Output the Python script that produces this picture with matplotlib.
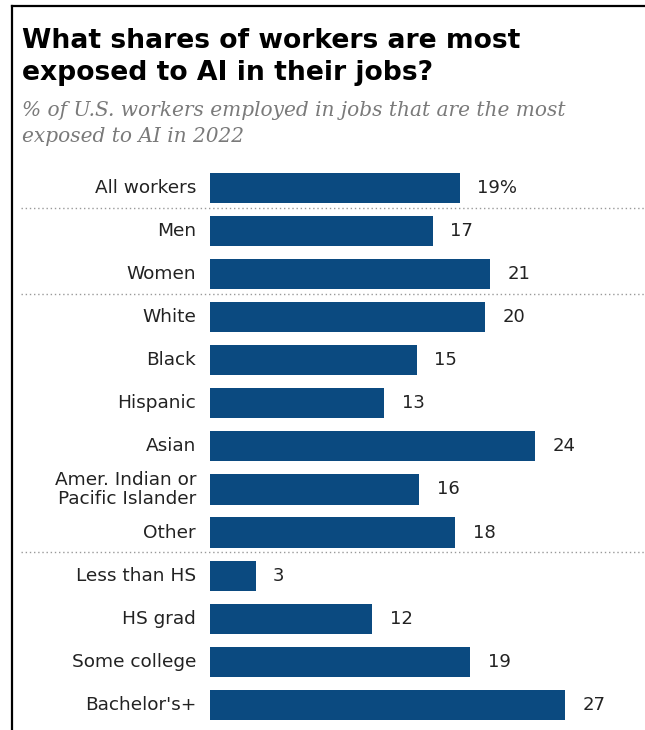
import matplotlib
matplotlib.use("Agg")
import matplotlib.pyplot as plt
from matplotlib.lines import Line2D

categories = ["All workers", "Men", "Women", "White", "Black", "Hispanic", "Asian",
              "Amer. Indian or\nPacific Islander", "Other", "Less than HS", "HS grad",
              "Some college", "Bachelor's+"]
# bar lengths (unrounded estimates)
values = [18.6, 16.6, 20.9, 20.5, 15.4, 13.0, 24.2, 15.6, 18.3, 3.4, 12.1, 19.4, 26.5]
# printed labels
value_labels = ["19%", "17", "21", "20", "15", "13", "24", "16", "18", "3", "12", "19", "27"]
separators_after = [0, 2, 8]

W, H = 645, 730
fig = plt.figure(figsize=(W / 100, H / 100), dpi=100)
fig.patch.set_facecolor("white")

ax_left, ax_w = 210, 435
ax = fig.add_axes([ax_left / W, 0, ax_w / W, 1])
ax.set_xlim(0, ax_w / 13.415)
y0, step = 188, 43.07
ax.set_ylim((H - y0) / step, -y0 / step)
ax.axis("off")

bar_color = "#0b4a80"
ypos = list(range(len(categories)))
ax.barh(ypos, values, height=0.70, color=bar_color)

sans = "DejaVu Sans"
for i, (v, lab, cat) in enumerate(zip(values, value_labels, categories)):
    ax.annotate(lab, xy=(v, i), xytext=(17.5, 0), textcoords="offset pixels",
                ha="left", va="center", fontsize=13, color="#222222", family=sans)
    ax.annotate(cat, xy=(0, i), xytext=(-14, 0), textcoords="offset pixels",
                ha="right", va="center", fontsize=13.3, color="#222222", family=sans,
                linespacing=1.05)

for s in separators_after:
    ax.axhline(s + 0.46, xmin=(21 - ax_left) / ax_w, xmax=1, clip_on=False,
               color="#999999", lw=1, linestyle=(0, (1, 2)))

# title and subtitle
title_lines = ["What shares of workers are most", "exposed to AI in their jobs?"]
for txt, yb in zip(title_lines, [48, 80]):
    fig.text(22 / W, 1 - yb / H, txt, ha="left", va="baseline", fontsize=19.2,
             fontweight="bold", family=sans, color="#000000")
sub_lines = ["% of U.S. workers employed in jobs that are the most", "exposed to AI in 2022"]
for txt, yb in zip(sub_lines, [116, 142]):
    fig.text(22 / W, 1 - yb / H, txt, ha="left", va="baseline", fontsize=14.5,
             style="italic", family="DejaVu Serif", color="#7a7a7a")

# frame lines (left and top)
fig.add_artist(Line2D([12 / W, 12 / W], [0, 1 - 6 / H], transform=fig.transFigure,
                      color="black", lw=1.6))
fig.add_artist(Line2D([12 / W, 1], [1 - 6 / H, 1 - 6 / H], transform=fig.transFigure,
                      color="black", lw=1.6))

fig.savefig("out.png", dpi=100)
